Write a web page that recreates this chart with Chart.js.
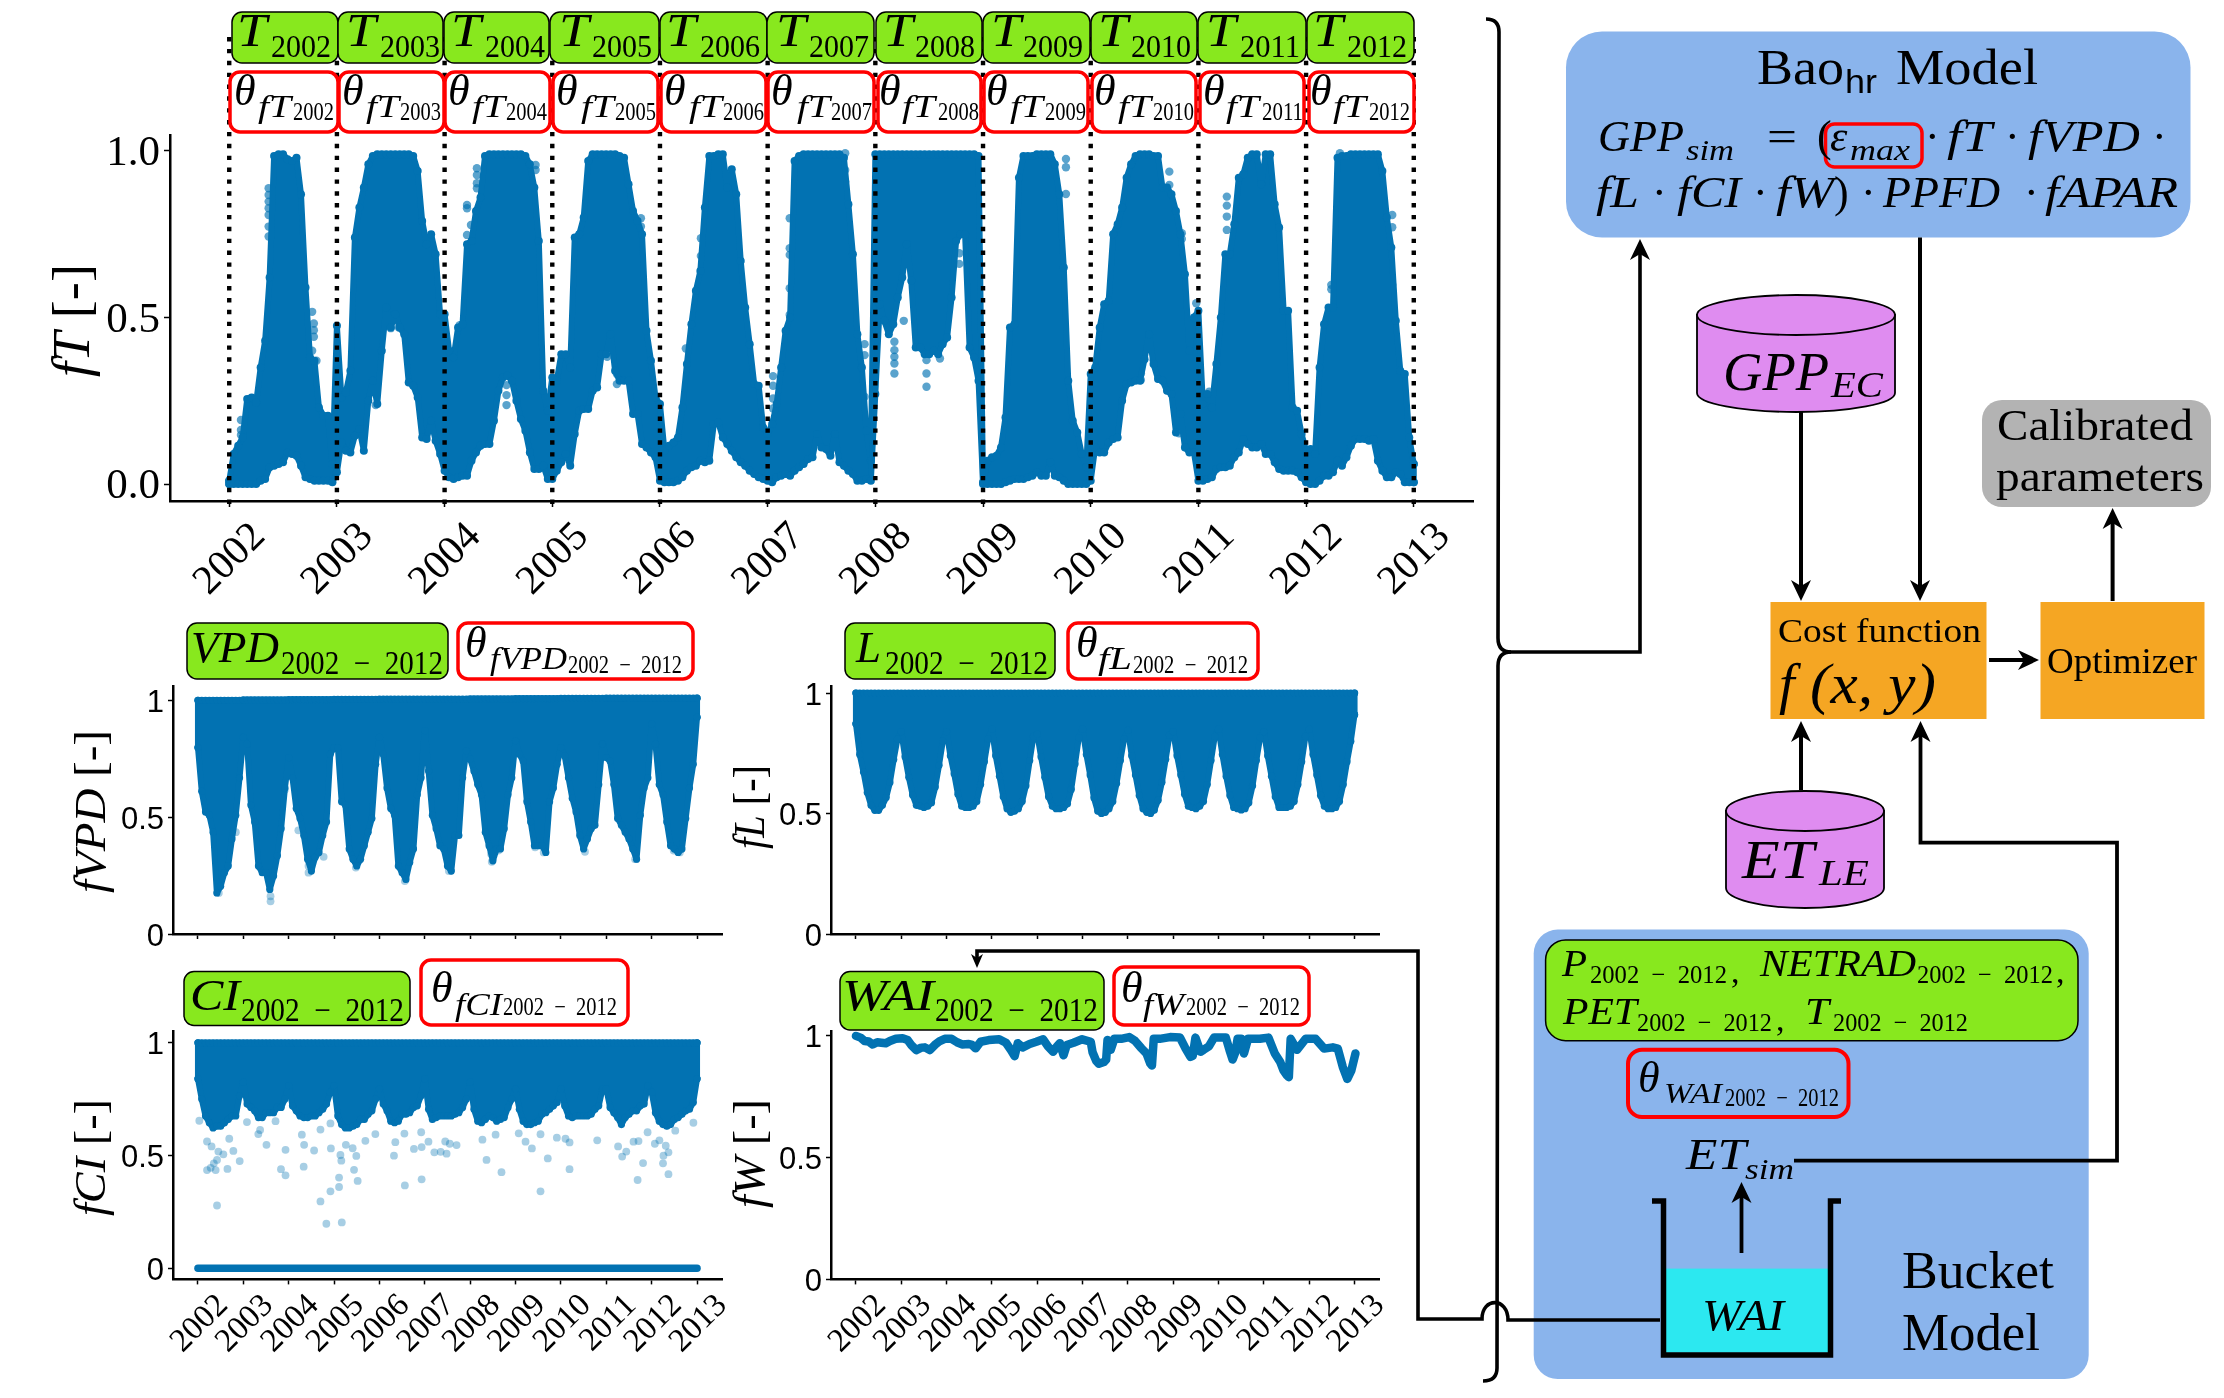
<!DOCTYPE html>
<html>
<head>
<meta charset="utf-8">
<title>Bao model calibration</title>
<script src="https://cdn.jsdelivr.net/npm/chart.js@4"></script>
<style>
  html, body { margin: 0; padding: 0; background: #fff; }
  #page { position: relative; width: 2224px; height: 1398px; overflow: hidden; background: #fff; }
  #page canvas { position: absolute; }
  #overlay { position: absolute; left: 0; top: 0; }
  #overlay text { font-family: "Liberation Serif", serif; fill: #000; }
</style>
</head>
<body>
<div id="page">
<canvas id="fT"></canvas>
<canvas id="fVPD"></canvas>
<canvas id="fL"></canvas>
<canvas id="fCI"></canvas>
<canvas id="fW"></canvas>
<svg id="overlay" width="2224" height="1398" xmlns="http://www.w3.org/2000/svg">
  <defs>
    <marker id="ah" markerUnits="userSpaceOnUse" markerWidth="26" markerHeight="26" refX="15" refY="13" orient="auto"><path d="M0,3 L21,13 L0,23 L6,13z"/></marker>
    <marker id="ahs" markerUnits="userSpaceOnUse" markerWidth="18" markerHeight="18" refX="9" refY="9" orient="auto"><path d="M0,3 L14,9 L0,15 L4,9z"/></marker>
  </defs>
  <!-- model boxes -->
  <rect x="1566" y="31.5" width="624.5" height="206" rx="36" fill="#8ab4ec"/>
  <rect x="1533.7" y="929.6" width="555" height="449.4" rx="24" fill="#8ab4ec"/>
  <rect x="1770.5" y="602" width="216" height="117" fill="#f5a623"/>
  <rect x="2040.5" y="602" width="164" height="117" fill="#f5a623"/>
  <rect x="1982" y="400" width="229" height="107" rx="20" fill="#b3b3b3"/>
  <rect x="1545.6" y="940" width="532.4" height="100.7" rx="20" fill="#88e81e" stroke="#000" stroke-width="1.5"/>
  <rect x="1628" y="1049.7" width="220.5" height="67.3" rx="14" fill="none" stroke="#f00" stroke-width="4"/>
  <rect x="1825.5" y="124" width="96.5" height="43" rx="9" fill="none" stroke="#f00" stroke-width="3.5"/>
  <!-- data cylinders -->
  <g fill="#df8cf0" stroke="#000" stroke-width="1.8">
    <path d="M1697,315 v78 a99,19 0 0 0 198,0 v-78 z"/>
    <ellipse cx="1796" cy="315" rx="99" ry="20"/>
    <path d="M1726,811 v77 a79,20 0 0 0 158,0 v-77 z"/>
    <ellipse cx="1805" cy="811" rx="79" ry="20"/>
  </g>
  <!-- bucket -->
  <rect x="1666" y="1268.6" width="162" height="84" fill="#2ce8f0"/>
  <path d="M1652,1201 H1663.5 V1355 H1830.5 V1201 H1841" fill="none" stroke="#000" stroke-width="5.5"/>
  <!-- brace and hump line -->
  <g fill="none" stroke="#000" stroke-width="3.6">
    <path d="M1486,19 Q1499,19 1499,32 L1498,638 Q1498,652 1511,652 L1640,652 L1640,245" marker-end="url(#ah)"/>
    <path d="M1511,652 Q1498,652 1498,666 L1497,1368 Q1497,1381 1483,1381"/>
    <path d="M1660,1320 L1508,1320 C1508,1297 1482,1297 1482,1319 L1418,1319 L1418,951 L977,951 L977,963" marker-end="url(#ahs)"/>
    <path d="M1801,412 V595" stroke-width="4" marker-end="url(#ah)"/>
    <path d="M1920,237.5 V595" stroke-width="4" marker-end="url(#ah)"/>
    <path d="M1801,790 V727" stroke-width="4" marker-end="url(#ah)"/>
    <path d="M1794,1160.7 H2117 V842.6 H1920.5 V727" stroke-width="3.8" marker-end="url(#ah)"/>
    <path d="M1989,660 H2033" stroke-width="4" marker-end="url(#ah)"/>
    <path d="M2112.6,601 V514" stroke-width="4" marker-end="url(#ah)"/>
    <path d="M1741.5,1253 V1188" stroke-width="3.8" marker-end="url(#ah)"/>
  </g>
</svg>
</div>
<script>
// ---------- data ----------
const years = [2002, 2003, 2004, 2005, 2006, 2007, 2008, 2009, 2010, 2011, 2012, 2013];
const xLimits = [2001.45, 2013.55];

// fT: hourly cloud, top and bottom of the cloud every half month
const fT_upper = [
  .01,.09,.115,.14,.255,.26,.245,.35,.43,.62,.985,.99,.99,.975,.97,.98,.87,.59,.38,.37,.23,.205,.205,.06,
  .475,.26,.275,.34,.74,.83,.89,.96,.985,.99,.99,.99,.99,.99,.99,.99,.99,.985,.94,.79,.72,.75,.69,.51,
  .51,.40,.38,.47,.48,.72,.73,.82,.86,.985,.99,.99,.99,.99,.99,.99,.99,.99,.985,.96,.89,.73,.28,.22,
  .32,.31,.39,.39,.35,.74,.75,.80,.97,.99,.99,.99,.99,.99,.99,.985,.98,.90,.82,.79,.75,.46,.37,.26,
  .24,.10,.115,.125,.14,.23,.36,.48,.58,.64,.83,.985,.985,.99,.99,.89,.945,.87,.67,.53,.42,.30,.295,.17,
  .15,.18,.24,.35,.46,.50,.97,.985,.99,.99,.99,.99,.99,.99,.99,.99,.99,.98,.84,.69,.45,.35,.16,.07,
  .99,.99,.99,.99,.99,.99,.99,.99,.99,.99,.99,.99,.99,.99,.99,.99,.99,.99,.99,.99,.99,.99,.99,.985,
  .005,.07,.08,.085,.11,.20,.47,.48,.92,.985,.985,.985,.99,.99,.99,.99,.96,.87,.65,.31,.19,.155,.09,.05,
  .33,.35,.47,.54,.55,.75,.78,.83,.92,.96,.985,.99,.99,.99,.985,.985,.89,.89,.87,.82,.75,.63,.40,.50,
  .52,.24,.27,.23,.36,.50,.69,.69,.78,.92,.93,.98,.99,.99,.90,.99,.99,.84,.77,.52,.52,.23,.22,.15,
  .10,.105,.09,.35,.48,.53,.53,.98,.985,.985,.99,.99,.99,.99,.99,.99,.99,.94,.80,.71,.49,.34,.33,.14,
  .06];
const fT_lower = [
  0,0,0,0,0,0,0,.01,.015,.05,.055,.06,.065,.095,.09,.085,.055,.02,.015,.01,.01,.01,.01,.005,
  .035,.125,.10,.095,.145,.165,.10,.25,.31,.24,.40,.53,.47,.51,.47,.45,.305,.295,.26,.14,.135,.19,.13,.09,
  .04,.02,.015,.02,.025,.025,.07,.095,.115,.12,.12,.19,.28,.32,.325,.31,.25,.195,.16,.095,.045,.045,.055,.015,
  .015,.04,.065,.09,.055,.15,.22,.225,.225,.28,.29,.39,.39,.45,.34,.31,.31,.31,.21,.21,.12,.11,.095,.08,
  .01,.005,.005,.005,.01,.02,.04,.05,.055,.07,.065,.07,.18,.185,.14,.12,.10,.08,.065,.055,.04,.03,.02,.015,
  .01,.005,.02,.025,.03,.025,.04,.05,.06,.075,.08,.15,.11,.105,.085,.15,.065,.055,.04,.03,.01,.01,.015,.01,
  .27,.54,.49,.45,.48,.56,.62,.72,.61,.41,.41,.39,.39,.40,.39,.42,.44,.56,.73,.75,.75,.41,.38,.31,
  0,0,0,0,0,.005,.01,.015,.015,.015,.02,.025,.035,.025,.025,.065,.025,.02,.01,0,0,0,0,0,
  .01,.11,.095,.095,.125,.135,.14,.25,.30,.305,.31,.31,.375,.45,.36,.315,.31,.28,.27,.155,.21,.11,.095,.095,
  .01,.01,.015,.02,.045,.05,.05,.055,.08,.095,.135,.12,.11,.11,.12,.09,.09,.065,.045,.04,.04,.04,.035,.02,
  .005,0,0,.01,.025,.025,.035,.07,.055,.08,.115,.135,.135,.135,.13,.135,.07,.04,.02,.02,.035,.03,.005,.005,
  .005];
// single points that stand clear of the fT cloud
const fT_dotX = [2002.366,2002.366,2002.366,2002.366,2002.366,2002.366,2002.366,2002.109,2002.109,2002.109,2002.77,2002.786,2002.786,2002.786,2002.77,2002.81,
  2003.575,2003.575,2003.575,2003.5,2003.5,2003.36,2004.208,2004.208,2004.245,2004.208,2004.30,2004.30,2004.30,2004.30,2004.845,2004.845,2004.14,2004.575,2004.575,2004.575,
  2005.51,2005.6,2005.6,2005.823,2005.823,2006.38,2006.38,2006.24,2007.205,2007.205,2007.205,2007.205,2007.205,2007.05,2007.05,2007.05,2007.05,2007.05,2007.72,2007.72,2007.72,2007.9,2007.9,2007.9,
  2008.177,2008.177,2008.177,2008.177,2008.177,2008.475,2008.475,2008.475,2008.78,2008.78,2008.6,2008.264,2009.77,2009.77,2009.77,2010.466,2010.466,2010.584,2010.73,2010.73,2010.846,2010.846,2010.82,2010.98,2010.98,2010.98,
  2011.264,2011.264,2011.264,2011.264,2011.1,2011.1,2012.234,2012.234,2012.314,2012.314,2012.314,2012.80,2012.80,2012.80];
const fT_dotY = [.888,.868,.848,.828,.808,.773,.743,.192,.162,.147,.517,.482,.462,.442,.40,.37,
  .528,.498,.47,.50,.468,.237,.838,.828,.778,.748,.948,.928,.903,.888,.958,.943,.477,.297,.267,.237,
  .382,.33,.30,.798,.773,.738,.685,.407,.798,.708,.688,.588,.508,.324,.295,.257,.227,.187,.993,.943,.908,.42,.387,.262,
  .427,.402,.382,.362,.332,.372,.332,.292,.693,.661,.377,.49,.976,.951,.871,.332,.312,.372,.938,.898,.753,.736,.152,.543,.503,.463,
  .863,.836,.803,.763,.277,.257,.598,.585,.993,.953,.893,.808,.771,.598];

// fVPD: bottom of the cloud, monthly
const fVPD_lower = [
  .80,.612,.524,.51,.437,.176,.205,.263,.292,.408,.51,.67,
  .844,.815,.553,.481,.292,.263,.263,.191,.249,.336,.452,.626,
  .757,.67,.539,.496,.423,.321,.27,.329,.35,.423,.481,.771,
  .80,.80,.568,.553,.365,.321,.292,.321,.379,.437,.496,.728,
  .844,.771,.626,.539,.51,.292,.263,.234,.307,.365,.597,.67,
  .873,.699,.51,.452,.379,.365,.292,.27,.423,.423,.67,.786,
  .75,.699,.641,.597,.437,.379,.314,.365,.365,.452,.597,.67,
  .829,.771,.742,.568,.481,.379,.379,.379,.35,.568,.626,.728,
  .80,.764,.67,.583,.524,.423,.365,.408,.452,.467,.641,.815,
  .757,.742,.641,.496,.467,.437,.408,.365,.321,.51,.626,.67,
  .902,.815,.641,.597,.481,.379,.365,.35,.365,.496,.626,.728,
  .93];
const fVPD_topByYear = [1.003,1.005,1.006,1.007,1.008,1.008,1.009,1.01,1.011,1.012,1.012,1.012];
const fVPD_dotX = [2002.46,2002.835,2003.60,2003.60,2004.213,2004.437,2004.437,2004.77,2005.48,2006.56,2007.53,2008.46,2008.46,2008.475,2008.62,2009.43,2009.62,2010.53,2011.635,2012.62,2012.485,2010.71,2003.915];
const fVPD_dotY = [.176,.437,.162,.14,.445,.292,.263,.331,.285,.227,.27,.387,.343,.31,.358,.372,.35,.353,.321,.35,.358,.466,.619];

// fL: bottom of the cloud, monthly; the top sits at 1
const fL_lower = [
  .872,.745,.672,.587,.534,.513,.513,.534,.566,.629,.724,.809,
  .84,.735,.65,.577,.534,.53,.525,.53,.545,.61,.70,.80,
  .84,.74,.665,.58,.53,.525,.525,.53,.55,.62,.715,.81,
  .85,.74,.655,.57,.52,.505,.51,.52,.55,.615,.72,.82,
  .83,.735,.65,.57,.53,.52,.52,.525,.54,.60,.705,.815,
  .85,.745,.66,.565,.51,.50,.505,.52,.55,.625,.72,.81,
  .845,.74,.66,.575,.52,.505,.50,.515,.555,.63,.725,.825,
  .84,.74,.66,.58,.53,.525,.52,.53,.55,.62,.72,.82,
  .85,.745,.655,.575,.525,.52,.515,.52,.545,.615,.72,.815,
  .84,.74,.655,.57,.525,.525,.525,.53,.55,.62,.715,.82,
  .85,.745,.66,.575,.53,.52,.52,.525,.55,.62,.715,.80,
  .91];

// fCI: bottom of the cloud, monthly; the top sits at 1, night values sit at 0
const fCI_lower = [
  .84,.75,.675,.645,.622,.63,.63,.645,.66,.675,.675,.765,
  .825,.728,.713,.698,.668,.668,.69,.69,.69,.713,.713,.75,
  .81,.72,.698,.675,.668,.668,.675,.675,.69,.705,.728,.78,
  .81,.675,.637,.622,.622,.63,.637,.66,.66,.683,.698,.75,
  .795,.728,.698,.652,.645,.652,.683,.683,.69,.713,.72,.765,
  .84,.705,.66,.668,.675,.675,.675,.675,.683,.69,.713,.75,
  .825,.705,.652,.645,.66,.675,.668,.652,.66,.668,.713,.75,
  .795,.705,.652,.637,.637,.645,.652,.683,.69,.705,.72,.735,
  .795,.72,.675,.668,.675,.675,.675,.675,.683,.705,.72,.795,
  .795,.713,.69,.668,.637,.668,.683,.698,.698,.72,.728,.81,
  .78,.69,.652,.637,.63,.637,.66,.668,.683,.698,.705,.735,
  .84];
const fCI_dotX = [2002.03,2002.20,2002.20,2002.28,2002.35,2002.42,2002.39,2002.42,2002.30,2002.45,2002.56,2002.65,2002.78,2002.92,2002.69,2003.08,2003.33,2003.37,2003.51,2003.71,2003.83,2003.93,2003.93,
  2004.29,2004.34,2004.33,2004.56,2004.70,2004.93,2004.92,2004.70,2004.92,2004.83,2005.11,2005.11,2005.17,2005.16,2005.14,2005.26,2005.41,2005.49,2005.44,2005.52,2005.69,2005.91,
  2006.32,2006.35,2006.55,2006.56,2006.76,2006.93,2006.93,2006.92,2007.08,2007.21,2007.35,2007.48,2007.45,2007.55,2007.70,2008.27,2008.36,2008.69,2008.56,
  2009.07,2009.22,2009.36,2009.71,2009.55,2009.55,2009.91,2010.10,2010.19,2010.19,2010.80,2011.26,2011.35,2011.44,2011.60,2011.69,2011.71,2011.81,2011.91,
  2012.07,2012.17,2012.25,2012.26,2012.31,2012.37,2012.37,2012.92,2012.52];
const fCI_dotY = [.654,.562,.435,.445,.465,.48,.435,.278,.54,.517,.505,.44,.52,.475,.574,.648,.595,.613,.547,.652,.439,.525,.412,
  .592,.547,.45,.522,.615,.531,.642,.296,.341,.197,.36,.402,.203,.477,.502,.547,.532,.498,.436,.387,.565,.595,
  .499,.559,.597,.367,.529,.537,.394,.603,.561,.514,.516,.508,.562,.552,.546,.57,.48,.426,.592,
  .598,.561,.531,.487,.341,.594,.579,.574,.558,.439,.567,.54,.495,.517,.561,.391,.564,.466,.603,
  .552,.567,.465,.499,.543,.514,.417,.645,.61];

// fW: a narrow band, followed along its middle
const fW_time = [2002.00,2002.10,2002.19,2002.28,2002.37,2002.47,2002.56,2002.66,2002.75,2002.88,2003.03,2003.14,2003.22,2003.33,2003.44,2003.52,2003.63,2003.74,2003.85,2003.96,
  2004.11,2004.23,2004.34,2004.49,2004.56,2004.64,2004.75,2004.93,2005.16,2005.31,2005.42,2005.50,2005.57,2005.68,2005.83,2005.98,2006.13,2006.24,2006.35,2006.43,2006.50,2006.58,2006.65,2006.80,2006.99,
  2007.18,2007.22,2007.30,2007.36,2007.47,2007.52,2007.55,2007.62,2007.70,2007.85,2008.03,2008.15,2008.30,2008.41,2008.49,2008.53,2008.57,2008.70,2008.93,2009.15,2009.27,2009.38,2009.43,2009.49,2009.60,2009.67,2009.79,2009.90,
  2010.16,2010.24,2010.31,2010.37,2010.42,2010.50,2010.56,2010.65,2010.91,2011.10,2011.24,2011.36,2011.43,2011.51,2011.55,2011.59,2011.73,2011.92,2012.14,2012.33,2012.52,2012.63,2012.74,2012.84,2012.93,2013.02];
const fW_value = [.997,.99,.976,.974,.962,.971,.969,.967,.976,.985,.987,.98,.96,.939,.949,.95,.939,.96,.976,.985,
  .985,.971,.962,.964,.96,.946,.973,.98,.983,.969,.939,.914,.967,.95,.964,.973,.983,.953,.932,.953,.967,.918,.96,.969,.983,
  .973,.93,.895,.883,.89,.90,.98,.94,.985,.985,.992,.978,.946,.925,.885,.876,.985,.985,.992,.99,.946,.911,.915,.99,.932,.94,.955,.99,
  .99,.94,.90,.93,.985,.985,.925,.985,.985,.99,.925,.89,.856,.835,.828,.985,.94,.985,.985,.945,.95,.945,.87,.821,.856,.925];

// ---------- labels ----------
const T_boxes = [[232,338],[338,443],[444,549],[550,659],[660,767],[767,874],[876,982],[983,1090],[1091,1197],[1198,1306],[1307,1414]];
const T_nameX = [237,346,451,559,666,776,883,991,1098,1206,1313];
const T_yearX = [271,380,485,592,700,809,915,1023,1131,1240,1347];
const theta_boxes = [[230,338],[339,444],[445,550],[553,658],[661,766],[768,874],[878,981],[984,1088],[1092,1196],[1200,1304],[1309,1414]];
const theta_x = [234,342,448,556,664,771,879,986,1094,1203,1310];
const theta_fTX = [258,366,472,581,689,797,902,1010,1118,1226,1333];
const theta_yearX = [293,400,506,615,723,831,938,1045,1153,1262,1369];
const range = '2002\u2002\u2212\u20022012';

// x, baseline, size, text, style (i italic, r roman, s sans), width
const labels = [
  // lower panels
  [191,662,44,'VPD','i',88],[281,674,33,range,'r',162],[465,657,44,'\u03b8','i'],[490,669,31,'fVPD','i',77],[568,673,25,range,'r',114],
  [856,662,44,'L','i',25],[885,674,33,range,'r',163],[1076,657,44,'\u03b8','i'],[1098,669,31,'fL','i',34],[1133,673,25,range,'r',115],
  [190,1010,44,'CI','i',50],[241,1021,33,range,'r',163],[431,1002,44,'\u03b8','i'],[455,1015,31,'fCI','i',47],[503,1015,25,range,'r',114],
  [842,1010,44,'WAI','i',92],[935,1021,33,range,'r',163],[1121,1002,44,'\u03b8','i'],[1143,1015,31,'fW','i',41],[1186,1015,25,range,'r',114],
  // Bao model
  [1757,84,50,'Bao','r',87],[1845,93,33,'hr','s',32],[1896,84,50,'Model','r',142],
  [1598,151,44,'GPP','i',86],[1686,160,30,'sim','i',48],[1767,151,44,'=','r',30],[1817,151,44,'(','r'],[1830,151,44,'\u03b5','i'],[1850,160,30,'max','i',60],
  [1925,151,44,'\u00b7','r'],[1947,151,44,'fT','i',45],[2005,151,44,'\u00b7','r'],[2028,151,44,'fVPD','i',112],[2152,151,44,'\u00b7','r'],
  [1596,207,44,'fL','i',43],[1652,207,44,'\u00b7','r'],[1677,207,44,'fCI','i',64],[1753,207,44,'\u00b7','r'],[1776,207,44,'fW','i',58],[1834,207,44,')','r'],
  [1861,207,44,'\u00b7','r'],[1883,207,44,'PPFD','i',117],[2024,207,44,'\u00b7','r'],[2045,207,44,'fAPAR','i',133],
  // cylinders, boxes
  [1723,390,54,'GPP','i',106],[1831,397,36,'EC','i',52],[1742,878,54,'ET','i',72],[1819,885,36,'LE','i',50],
  [1778,642,33,'Cost function','r',203],[1779,703,56,'f','i'],[1810,703,56,'(x, y)','i',126],[2047,673,36,'Optimizer','r',150],
  [1997,440,44,'Calibrated','r',196],[1996,491,44,'parameters','r',208],
  // bucket model
  [1562,976,38,'P','i',25],[1590,983,26,range,'r',137],[1731,983,34,',','r'],[1760,976,38,'NETRAD','i',156],[1917,983,26,range,'r',136],[2056,983,34,',','r'],
  [1563,1024,38,'PET','i',74],[1637,1031,26,range,'r',135],[1776,1031,34,',','r'],[1805,1024,38,'T','i',24],[1833,1031,26,range,'r',135],
  [1638,1092,44,'\u03b8','i'],[1664,1103,30,'WAI','i',58],[1725,1106,25,range,'r',114],
  [1686,1169,44,'ET','i',60],[1745,1179,30,'sim','i',49],[1702,1330,44,'WAI','i',82],
  [1902,1288,52,'Bucket','r',152],[1902,1350,52,'Model','r',138]
];
// rotated axis titles: baseline x, bottom y, size, width
const axisTitles = [
  [89,377,52,'fT',' [-]',113],[105,893,44,'fVPD',' [-]',163],[105,1216,44,'fCI',' [-]',117],[764,849,44,'fL',' [-]',84],[764,1208,44,'fW',' [-]',109]
];

// ---------- helpers ----------
const BLUE = '#0272b2';
const timeGrid = (n, perYear) => Array.from({length: n}, (_, i) => 2002 + i / perYear);
const toXY = (xs, ys) => xs.map((x, i) => ({x, y: ys[i]}));

function cloud(xs, lower, upper, width, radius) {
  const line = {type: 'line', borderColor: BLUE, backgroundColor: BLUE, borderWidth: width,
    pointRadius: radius, pointBorderWidth: 0, pointBackgroundColor: BLUE,
    tension: 0, borderJoinStyle: 'round', borderCapStyle: 'round', clip: false};
  const last = xs.length - 1;
  return [
    {...line, label: 'lower', data: toXY(xs, lower), fill: false},
    {...line, label: 'upper', data: toXY(xs, upper), fill: '-1'},
    {...line, label: 'start', data: toXY([xs[0], xs[0]], [lower[0], upper[0]]), fill: false},
    {...line, label: 'end', data: toXY([xs[last], xs[last]], [lower[last], upper[last]]), fill: false}
  ];
}
function dots(xs, ys, alpha, radius) {
  return {type: 'scatter', label: 'points', data: toXY(xs, ys), showLine: false, pointRadius: radius, pointBorderWidth: 0,
    pointBackgroundColor: `rgba(2,114,178,${alpha})`, clip: false};
}

function panel(id, box, plot, yLim, yTicks, tick, datasets, plugins) {
  const [cx, cy, cw, ch] = box;
  const [l, t, r, b] = plot;
  const canvas = document.getElementById(id);
  canvas.width = cw; canvas.height = ch;
  canvas.style.left = cx + 'px'; canvas.style.top = cy + 'px';
  canvas.style.width = cw + 'px'; canvas.style.height = ch + 'px';
  new Chart(canvas, {
    type: 'line',
    data: {datasets},
    plugins: plugins || [],
    options: {
      responsive: false, animation: false, devicePixelRatio: 1,
      layout: {padding: {top: t - cy, right: cx + cw - r, left: 0, bottom: 0}},
      plugins: {legend: {display: false}, tooltip: {enabled: false}, title: {display: false}},
      scales: {
        x: {
          type: 'linear', min: xLimits[0], max: xLimits[1],
          border: {color: '#000', width: tick.spine},
          grid: {drawOnChartArea: false, drawTicks: true, tickLength: tick.len, tickColor: '#000', tickWidth: 1.5},
          afterBuildTicks: s => { s.ticks = years.map(value => ({value})); },
          afterFit: s => { s.height = cy + ch - b; s.paddingLeft = 0; s.paddingRight = 0; },
          ticks: {
            autoSkip: false, minRotation: 45, maxRotation: 45, color: '#000',
            font: {family: 'Liberation Serif', size: tick.xSize},
            padding: tick.xPad, labelOffset: tick.xOffset,
            callback: v => tick.xLabels ? String(v) : ''
          }
        },
        y: {
          type: 'linear', min: yLim[0], max: yLim[1],
          border: {color: '#000', width: tick.spine},
          grid: {drawOnChartArea: false, drawTicks: true, tickLength: tick.len, tickColor: '#000', tickWidth: 1.5},
          afterBuildTicks: s => { s.ticks = yTicks.map(value => ({value})); },
          afterFit: s => { s.width = l - cx; s.paddingTop = 0; s.paddingBottom = 0; },
          ticks: {
            autoSkip: false, color: '#000', padding: tick.yPad, labelOffset: tick.yShift,
            font: {family: tick.yFont, size: tick.ySize},
            callback: v => tick.yFormat(v)
          }
        }
      }
    }
  });
}

// dotted year lines of the top panel, running up behind the label boxes
const yearLines = {
  id: 'yearLines',
  afterDatasetsDraw(chart) {
    const {ctx, chartArea, scales} = chart;
    ctx.save();
    ctx.strokeStyle = '#000';
    ctx.lineWidth = 4.4;
    ctx.setLineDash([4.4, 7.46]);
    years.forEach(year => {
      const x = scales.x.getPixelForValue(year);
      ctx.beginPath();
      ctx.moveTo(x, chartArea.bottom + 3);
      ctx.lineTo(x, 36);
      ctx.stroke();
    });
    ctx.restore();
  }
};

// ---------- the five panels ----------
const bigTicks = {spine: 2.5, len: 6, xSize: 41, xPad: 6, xOffset: 30, xLabels: true, yPad: 4, yShift: 3, yFont: 'Liberation Serif', ySize: 43, yFormat: v => v.toFixed(1)};
const smallTicks = {spine: 2.5, len: 5, xSize: 33, xPad: 2, xOffset: 25, xLabels: true, yPad: 4, yShift: 3, yFont: 'Liberation Sans', ySize: 31, yFormat: v => String(v)};
const noXLabels = {...smallTicks, xLabels: false};

const halfMonths = timeGrid(fT_upper.length, 24);
panel('fT', [0, 0, 1480, 600], [170, 135, 1473, 501], [-0.051, 1.048], [0, 0.5, 1], bigTicks,
  [...cloud(halfMonths, fT_lower, fT_upper, 6, 4), dots(fT_dotX, fT_dotY, 0.65, 4.2)], [yearLines]);

const months = timeGrid(fVPD_lower.length, 12);
panel('fVPD', [0, 680, 740, 290], [173, 686.5, 722, 934], [0, 1.062], [0, 0.5, 1], noXLabels,
  [...cloud(months, fVPD_lower, months.map(t => fVPD_topByYear[Math.floor(t - 2002)]), 6, 3.6), dots(fVPD_dotX, fVPD_dotY, 0.35, 3.9)]);

panel('fL', [740, 680, 660, 290], [831, 686.5, 1379.5, 934], [0, 1.027], [0, 0.5, 1], noXLabels,
  cloud(months, fL_lower, months.map(() => 1), 6, 3.6));

panel('fCI', [0, 1020, 740, 378], [173, 1031.5, 722, 1279.4], [-0.05, 1.05], [0, 0.5, 1], smallTicks,
  [...cloud(months, fCI_lower, months.map(() => 1), 6, 3.6), dots(fCI_dotX, fCI_dotY, 0.35, 3.9),
   {type: 'line', label: 'zero', data: toXY([2002, 2013], [0, 0]), borderColor: BLUE, borderWidth: 7.5, pointRadius: 0, borderCapStyle: 'round', clip: false}]);

panel('fW', [740, 1020, 660, 378], [831, 1031.5, 1379.5, 1279.4], [0, 1.015], [0, 0.5, 1], smallTicks,
  [{type: 'line', label: 'fW', data: toXY(fW_time, fW_value), borderColor: BLUE, borderWidth: 8.5, pointRadius: 0, tension: 0,
    borderJoinStyle: 'round', borderCapStyle: 'round', clip: false}]);

// ---------- overlay text and label boxes ----------
const svg = document.getElementById('overlay');
const NS = 'http://www.w3.org/2000/svg';
function make(tag, attrs, text) {
  const el = document.createElementNS(NS, tag);
  Object.entries(attrs).forEach(([k, v]) => el.setAttribute(k, v));
  if (text) el.textContent = text;
  svg.appendChild(el);
  return el;
}
function put(x, y, size, text, style, width) {
  const attrs = {x, y, 'font-size': size};
  if (style === 'i') attrs['font-style'] = 'italic';
  if (style === 's') { attrs.style = 'font-family:"Liberation Sans",sans-serif'; }
  if (width) { attrs.textLength = width; attrs.lengthAdjust = 'spacingAndGlyphs'; }
  make('text', attrs, text);
}
function box(x0, x1, y0, y1, kind) {
  const red = kind === 'theta';
  make('rect', {x: x0, y: y0, width: x1 - x0, height: y1 - y0, rx: 10,
    fill: red ? '#fff' : '#88e81e', stroke: red ? '#f00' : '#000', 'stroke-width': red ? 3.5 : 1.5});
}

T_boxes.forEach((b, i) => {
  box(b[0], b[1], 12, 63, 'input');
  put(T_nameX[i], 46, 46, 'T', 'i', 30);
  put(T_yearX[i], 57, 31, String(years[i]), 'r', 60);
});
theta_boxes.forEach((b, i) => {
  box(b[0], b[1], 72, 132, 'theta');
  put(theta_x[i], 105, 44, '\u03b8', 'i');
  put(theta_fTX[i], 117, 32, 'fT', 'i', 33);
  put(theta_yearX[i], 120, 26, String(years[i]), 'r', 41);
});
box(187, 448, 623, 679, 'input'); box(458, 693, 623, 679, 'theta');
box(845, 1055, 623, 679, 'input'); box(1068, 1258, 623, 679, 'theta');
box(184, 410, 971.5, 1025.4, 'input'); box(421, 628, 960, 1025, 'theta');
box(840, 1104, 971.5, 1030, 'input'); box(1114, 1309, 967, 1025, 'theta');
labels.forEach(l => put(l[0], l[1], l[2], l[3], l[4], l[5]));

axisTitles.forEach(([x, y, size, name, unit, width]) => {
  const t = make('text', {transform: `translate(${x},${y}) rotate(-90)`, 'font-size': size, textLength: width, lengthAdjust: 'spacingAndGlyphs'});
  const a = document.createElementNS(NS, 'tspan');
  a.setAttribute('font-style', 'italic');
  a.textContent = name;
  const b = document.createElementNS(NS, 'tspan');
  b.textContent = unit;
  t.appendChild(a); t.appendChild(b);
});
</script>
</body>
</html>
